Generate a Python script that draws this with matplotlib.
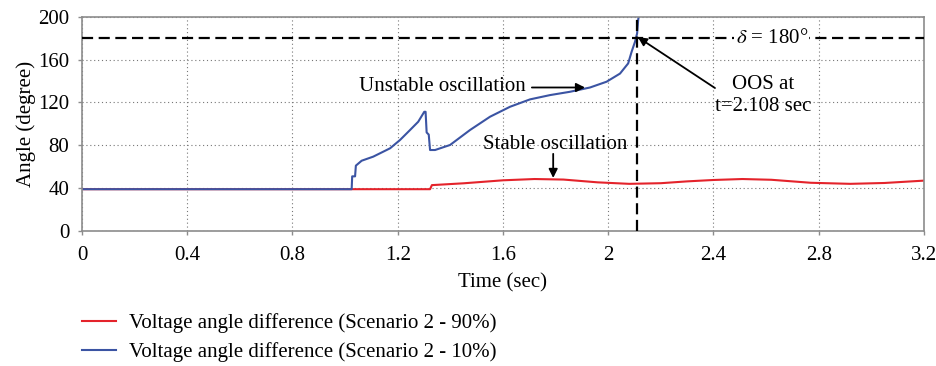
import matplotlib
matplotlib.use("Agg")
import matplotlib.pyplot as plt

plt.rcParams['font.family'] = ['Liberation Serif', 'DejaVu Serif']
plt.rcParams['mathtext.fontset'] = 'stix'

# Voltage angle difference, Scenario 2 - 90% (stable case)
t_stable = [0.0, 1.323, 1.33, 1.45, 1.60, 1.72, 1.83, 1.96, 2.08, 2.20,
            2.30, 2.40, 2.51, 2.62, 2.77, 2.92, 3.05, 3.20]
ang_stable = [39.0, 39.0, 42.8, 44.5, 47.3, 48.5, 48.0, 45.4, 44.0, 44.6,
              46.3, 47.6, 48.5, 47.8, 45.0, 44.0, 44.8, 47.0]

# Voltage angle difference, Scenario 2 - 10% (unstable case)
t_unstable = [0.0, 1.025, 1.027, 1.038, 1.041, 1.063, 1.107, 1.171, 1.209,
              1.247, 1.278, 1.301, 1.306, 1.310, 1.318, 1.323, 1.342, 1.399,
              1.475, 1.551, 1.627, 1.703, 1.779, 1.855, 1.931, 1.994, 2.045,
              2.076, 2.089, 2.102, 2.110, 2.114, 2.125]
ang_unstable = [39.0, 39.0, 51.0, 51.0, 61.0, 65.6, 69.4, 77.2, 85.0,
                94.3, 102.0, 111.3, 111.3, 92.0, 90.0, 75.6, 75.6, 80.3,
                94.3, 106.7, 116.0, 122.9, 126.9, 130.0, 134.0, 139.4, 147.0,
                156.5, 167.3, 176.7, 184.5, 197.0, 215.0]

x_ticks = [0, 0.4, 0.8, 1.2, 1.6, 2.0, 2.4, 2.8, 3.2]
x_tick_labels = ['0', '0.4', '0.8', '1.2', '1.6', '2', '2.4', '2.8', '3.2']
y_ticks = [0, 40, 80, 120, 160, 200]

delta_limit = 180
t_oos = 2.108

red = '#E4232B'
blue = '#3B54A3'
spine_gray = '#8C8C8C'
fs = 15

fig = plt.figure(figsize=(9.37, 3.66), dpi=100)
ax = fig.add_axes([0.0875, 0.369, 0.8985, 0.585])

l_red, = ax.plot(t_stable, ang_stable, color=red, lw=1.5)
l_blue, = ax.plot(t_unstable, ang_unstable, color=blue, lw=1.5)

ax.axhline(delta_limit, color='black', lw=1.6, ls=(0, (5, 2.5)), zorder=3)
ax.axvline(t_oos, color='black', lw=1.6, ls=(0, (5, 2.5)), zorder=3)

ax.set_xlim(0, 3.2)
ax.set_ylim(0, 200)
ax.set_xticks(x_ticks)
ax.set_xticklabels(x_tick_labels)
ax.set_yticks(y_ticks)
ax.grid(True, ls=(0, (1, 2.5)), color='#777777', lw=0.8)
ax.set_axisbelow(True)
for s in ax.spines.values():
    s.set_color(spine_gray)
    s.set_linewidth(1.2)
ax.tick_params(axis='both', labelsize=fs, colors='black', length=3,
               width=1, color=spine_gray)
ax.tick_params(axis='x', pad=8)
ax.tick_params(axis='y', pad=6)

ax.set_xlabel('Time (sec)', fontsize=fs, labelpad=6)
ax.set_ylabel('Angle (degree)', fontsize=fs, labelpad=2)

arrow = dict(arrowstyle='-|>', color='black', lw=1.3, mutation_scale=13,
             shrinkA=0, shrinkB=0)

# annotations
ax.text(1.688, 134.5, 'Unstable oscillation', fontsize=fs, ha='right', va='center')
ax.annotate('', xy=(1.912, 134), xytext=(1.71, 134), arrowprops=arrow)

ax.text(1.798, 76.5, 'Stable oscillation', fontsize=fs, ha='center', va='baseline')
ax.annotate('', xy=(1.791, 49.5), xytext=(1.791, 72.0), arrowprops=arrow)

ax.text(2.588, 126.5, 'OOS at\nt=2.108 sec', fontsize=fs, ha='center', va='center',
        linespacing=1.2)
ax.annotate('', xy=(t_oos + 0.005, delta_limit + 1), xytext=(2.406, 133.5),
            arrowprops=arrow)

ax.text(2.622, delta_limit, r'$\delta$ = 180°', fontsize=fs, ha='center', va='center',
        bbox=dict(facecolor='white', edgecolor='none', pad=1.0), zorder=4)

fig.legend([l_red, l_blue],
           ['Voltage angle difference (Scenario 2 - 90%)',
            'Voltage angle difference (Scenario 2 - 10%)'],
           loc='upper left', bbox_to_anchor=(0.076, 0.172),
           frameon=False, fontsize=fs, handlelength=1.65, handletextpad=0.6,
           labelspacing=0.42, borderpad=0.0)

fig.savefig('out.png', dpi=100)
